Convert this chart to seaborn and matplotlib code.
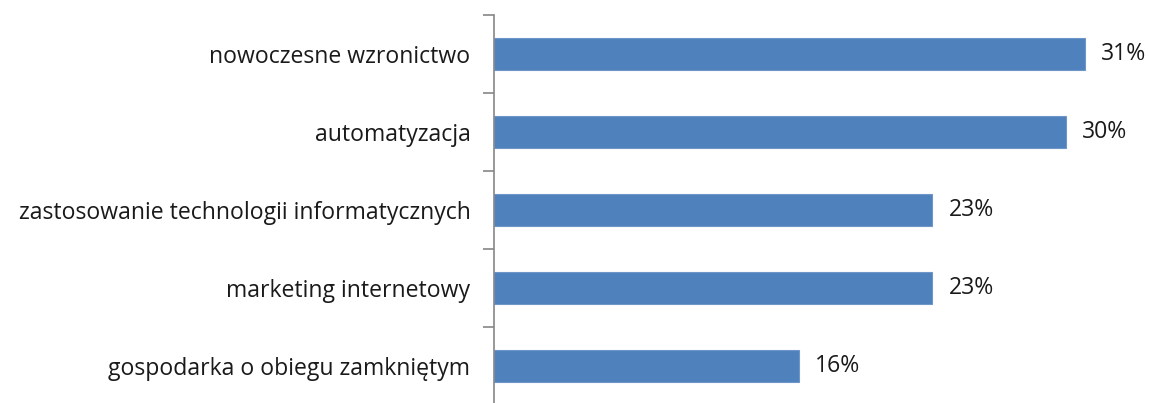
import matplotlib
matplotlib.use("Agg")
import matplotlib.pyplot as plt
import seaborn as sns
import pandas as pd
import numpy as np

categories = [
    "nowoczesne wzronictwo",
    "automatyzacja",
    "zastosowanie technologii informatycznych",
    "marketing internetowy",
    "gospodarka o obiegu zamkniętym",
]
values = [31, 30, 23, 23, 16]

df = pd.DataFrame({"category": categories, "value": values})

sns.set_style("white")
plt.rcParams["font.family"] = ["Open Sans", "DejaVu Sans"]

fig = plt.figure(figsize=(11.5, 4.03), dpi=100)
ax = fig.add_axes([494 / 1150, -0.005, 1 - 494 / 1150 - 0.007, 390 / 403])

sns.barplot(data=df, x="value", y="category", orient="h", color="#4F81BD",
            width=0.4, edgecolor="#6E96C8", linewidth=0.8, saturation=1, ax=ax)

for i, v in enumerate(values):
    ax.text(v + 0.85, i, f"{v}%", va="center", ha="left", fontsize=16.6, color="#1a1a1a")

ax.set_xlim(0, 34)
ax.set_ylim(len(categories) - 0.5, -0.5)
ax.set_xlabel("")
ax.set_ylabel("")
ax.set_xticks([])
for s in ["top", "right", "bottom"]:
    ax.spines[s].set_visible(False)
ax.spines["left"].set_color("#868686")
ax.spines["left"].set_linewidth(1.2)

ax.tick_params(axis="y", which="major", length=0, labelsize=16.6, pad=17, labelcolor="#1a1a1a")
ax.set_yticks(np.arange(len(categories)) - 0.5, minor=True)
ax.tick_params(axis="y", which="minor", length=8, width=1.2, color="#868686", left=True)

fig.savefig("out.png", dpi=100)
